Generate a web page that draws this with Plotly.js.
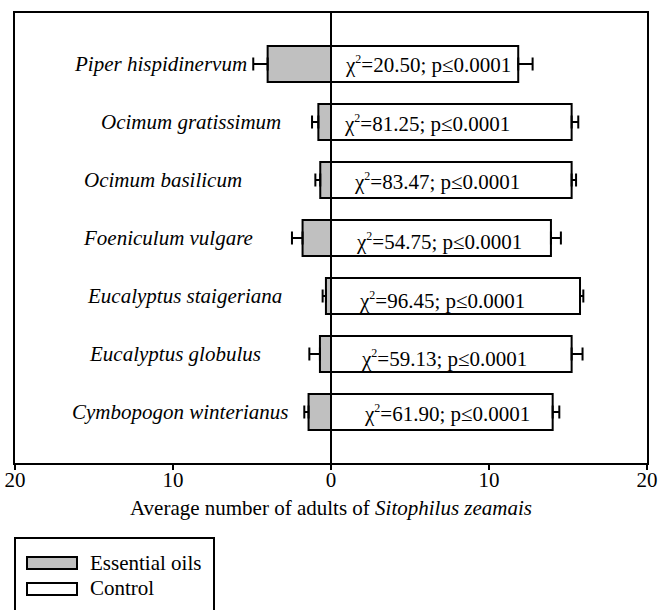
<!DOCTYPE html>
<html>
<head>
<meta charset="utf-8">
<script src="https://cdn.plot.ly/plotly-3.0.1.min.js"></script>
<style>html,body{margin:0;padding:0;background:#fff;}#chart{width:662px;height:610px;}</style>
</head>
<body>
<div id="chart"></div>
<script>
// ---- data ----
const species = ['Piper hispidinervum', 'Ocimum gratissimum', 'Ocimum basilicum',
  'Foeniculum vulgare', 'Eucalyptus staigeriana', 'Eucalyptus globulus', 'Cymbopogon winterianus'];
const oilMeans = [4.01, 0.80, 0.68, 1.80, 0.32, 0.70, 1.42];
const oilErr = [0.91, 0.40, 0.31, 0.67, 0.21, 0.67, 0.27];
const controlMeans = [11.85, 15.23, 15.23, 13.92, 15.76, 15.23, 14.03];
const controlErr = [0.91, 0.42, 0.28, 0.63, 0.21, 0.69, 0.42];
const chiSquare = ['20.50', '81.25', '83.47', '54.75', '96.45', '59.13', '61.90'];
const pText = 'p≤0.0001';
const tickVals = [-20, -10, 0, 10, 20];
const tickText = ['20', '10', '0', '10', '20'];
const seriesNames = ['Essential oils', 'Control'];

// ---- layout helpers (positions / styles) ----
const FONT = 'Liberation Serif';
const labelX = [-10.81, -8.84, -10.63, -10.31, -9.29, -9.89, -9.57];
const chiX = [6.13, 6.06, 6.72, 6.84, 7.04, 7.17, 7.34];
const chiShift = [-1, -1.5, -1.7, -3.7, -4, -4, -1];

const zeros = species.map(() => 0);

const traces = [
  {
    type: 'bar', orientation: 'h', name: seriesNames[0],
    y: species, x: oilMeans.map(v => -v), width: 0.62,
    marker: {color: '#c0c0c0', line: {color: '#000', width: 2}},
    error_x: {type: 'data', symmetric: false, array: zeros, arrayminus: oilErr,
      color: '#000', thickness: 2, width: 6.5},
    showlegend: false, hoverinfo: 'skip'
  },
  {
    type: 'bar', orientation: 'h', name: seriesNames[1],
    y: species, x: controlMeans, width: 0.62,
    marker: {color: '#ffffff', line: {color: '#000', width: 2}},
    error_x: {type: 'data', symmetric: false, array: controlErr, arrayminus: zeros,
      color: '#000', thickness: 2, width: 6.5},
    showlegend: false, hoverinfo: 'skip'
  }
];

const annotations = [];
species.forEach((s, i) => {
  annotations.push({
    x: labelX[i], y: s, xref: 'x', yref: 'y', text: '<i>' + s + '</i>',
    showarrow: false, xanchor: 'center', yanchor: 'middle',
    font: {family: FONT, size: 21, color: '#000'}
  });
  annotations.push({
    x: chiX[i], y: s, xref: 'x', yref: 'y', yshift: chiShift[i],
    text: 'χ<sup><span style="font-size:12px">2</span></sup>=' + chiSquare[i] + '; ' + pText,
    showarrow: false, xanchor: 'center', yanchor: 'middle',
    font: {family: FONT, size: 21, color: '#000'}
  });
});

// custom legend (pixel -> paper conversion for plot area x 15..647, y 13..463)
const px = v => (v - 15) / 632;
const py = v => (463 - v) / 450;
annotations.push({x: px(88), y: py(563), xref: 'paper', yref: 'paper', text: seriesNames[0],
  showarrow: false, xanchor: 'left', yanchor: 'middle', font: {family: FONT, size: 21, color: '#000'}});
annotations.push({x: px(88), y: py(588), xref: 'paper', yref: 'paper', text: seriesNames[1],
  showarrow: false, xanchor: 'left', yanchor: 'middle', font: {family: FONT, size: 21, color: '#000'}});

const shapes = [
  {type: 'line', xref: 'x', yref: 'paper', x0: 0, x1: 0, y0: 0, y1: 1, layer: 'above',
    line: {color: '#000', width: 2}},
  {type: 'rect', xref: 'paper', yref: 'paper', x0: px(15), x1: px(214), y0: py(538), y1: py(625),
    line: {color: '#000', width: 2}, fillcolor: 'rgba(0,0,0,0)'},
  {type: 'rect', xref: 'paper', yref: 'paper', x0: px(27), x1: px(77), y0: py(557), y1: py(569),
    line: {color: '#000', width: 2}, fillcolor: '#c0c0c0'},
  {type: 'rect', xref: 'paper', yref: 'paper', x0: px(27), x1: px(77), y0: py(583), y1: py(595),
    line: {color: '#000', width: 2}, fillcolor: '#ffffff'}
];

const layout = {
  width: 662, height: 610,
  margin: {l: 15, r: 15, t: 13, b: 147},
  paper_bgcolor: '#fff', plot_bgcolor: '#fff',
  barmode: 'overlay',
  showlegend: false,
  font: {family: FONT, color: '#000'},
  xaxis: {
    range: [-20, 20], tickvals: tickVals, ticktext: tickText,
    ticks: 'outside', ticklen: 5, tickwidth: 2, tickcolor: '#000',
    ticklabelstandoff: -8,
    showline: true, linecolor: '#000', linewidth: 2, mirror: true,
    showgrid: false, zeroline: false,
    tickfont: {family: FONT, size: 21, color: '#000'},
    title: {text: 'Average number of adults of <i>Sitophilus zeamais</i>',
      font: {family: FONT, size: 21, color: '#000'}, standoff: 9}
  },
  yaxis: {
    type: 'category', categoryorder: 'array', categoryarray: species,
    range: [6.879, -0.879],
    showticklabels: false, ticks: '',
    showline: true, linecolor: '#000', linewidth: 2, mirror: true,
    showgrid: false, zeroline: false
  },
  annotations: annotations,
  shapes: shapes
};

Plotly.newPlot('chart', traces, layout, {displayModeBar: false, staticPlot: true});
</script>
</body>
</html>
